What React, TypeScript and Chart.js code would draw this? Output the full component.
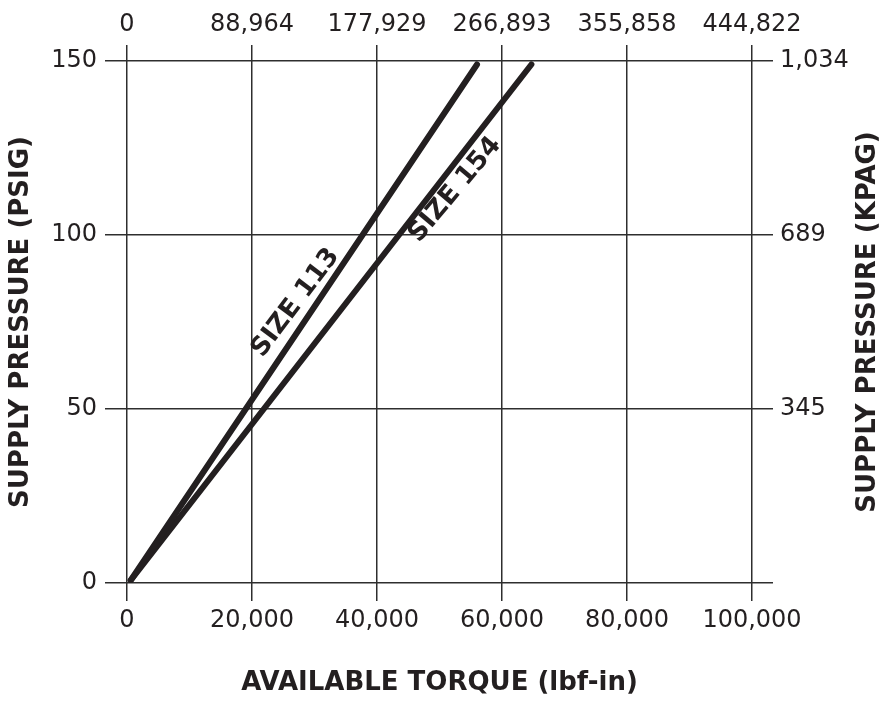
import React, { useEffect, useRef } from 'react';
import { Chart, registerables } from 'chart.js';

Chart.register(...registerables);

// ---- data ----
const xTickValues = [0, 20000, 40000, 60000, 80000, 100000];
const topTickLabels = ['0', '88,964', '177,929', '266,893', '355,858', '444,822'];
const yTickValues = [0, 50, 100, 150];
const rightTickLabels = ['', '345', '689', '1,034'];

const seriesNames = ['SIZE 113', 'SIZE 154'];
const size113 = [{ x: 600, y: 0.8 }, { x: 56000, y: 149 }];
const size154 = [{ x: 600, y: 0.8 }, { x: 64700, y: 149 }];

const labelX = [27000, 52500];
const labelY = [80.5, 113];
const labelAngle = [-53, -50];

const xTitle = 'AVAILABLE TORQUE (lbf-in)';
const yTitle = 'SUPPLY PRESSURE (PSIG)';
const y2Title = 'SUPPLY PRESSURE (KPAG)';

const INK = '#231f20';
const GRID = '#2e2e2e';
const FONT = '"DejaVu Sans", Verdana, sans-serif';

const annotationPlugin = {
  id: 'annotations',
  afterDraw(chart: any) {
    const { ctx, chartArea, scales } = chart;
    ctx.save();
    ctx.fillStyle = INK;
    ctx.font = `bold 26px ${FONT}`;
    ctx.textAlign = 'center';
    ctx.textBaseline = 'middle';
    // series labels
    seriesNames.forEach((name, i) => {
      const px = scales.x.getPixelForValue(labelX[i]);
      const py = scales.y.getPixelForValue(labelY[i]);
      ctx.save();
      ctx.translate(px, py);
      ctx.rotate((labelAngle[i] * Math.PI) / 180);
      ctx.fillText(name, 0, 0);
      ctx.restore();
    });
    // axis titles
    const cy = (chartArea.top + chartArea.bottom) / 2;
    ctx.save();
    ctx.translate(21, cy);
    ctx.rotate(-Math.PI / 2);
    ctx.fillText(yTitle, 0, 0);
    ctx.restore();
    ctx.save();
    ctx.translate(chart.width - 12, cy);
    ctx.rotate(-Math.PI / 2);
    ctx.fillText(y2Title, 0, 0);
    ctx.restore();
    ctx.fillText(xTitle, (chartArea.left + chartArea.right) / 2, chart.height - 21);
    ctx.restore();
  },
};

export default function App() {
  const canvasRef = useRef<HTMLCanvasElement | null>(null);

  useEffect(() => {
    if (!canvasRef.current) return;
    const tickFont = { family: FONT, size: 24 };
    const chart = new Chart(canvasRef.current, {
      type: 'line',
      data: {
        datasets: [
          {
            label: seriesNames[0],
            data: size113,
            borderColor: INK,
            borderWidth: 6,
            pointRadius: 0,
            borderCapStyle: 'round',
            xAxisID: 'x',
            yAxisID: 'y',
          },
          {
            label: seriesNames[1],
            data: size154,
            borderColor: INK,
            borderWidth: 6,
            pointRadius: 0,
            borderCapStyle: 'round',
            xAxisID: 'x',
            yAxisID: 'y',
          },
        ],
      },
      options: {
        animation: false,
        responsive: false,
        maintainAspectRatio: false,
        layout: { padding: 0 },
        plugins: {
          legend: { display: false },
          tooltip: { enabled: false },
        },
        scales: {
          x: {
            type: 'linear',
            position: 'bottom',
            min: xTickValues[0],
            max: xTickValues[xTickValues.length - 1],
            afterBuildTicks: (s: any) => {
              s.ticks = xTickValues.map((v) => ({ value: v }));
            },
            afterFit: (s: any) => {
              s.height = 121;
            },
            border: { display: false },
            grid: { color: GRID, lineWidth: 1.5, tickLength: 18 },
            ticks: {
              font: tickFont,
              color: INK,
              padding: 5,
              maxRotation: 0,
              autoSkip: false,
              callback: (v: any) => Number(v).toLocaleString('en-US'),
            },
          },
          x2: {
            type: 'linear',
            position: 'top',
            min: xTickValues[0],
            max: xTickValues[xTickValues.length - 1],
            afterBuildTicks: (s: any) => {
              s.ticks = xTickValues.map((v) => ({ value: v }));
            },
            afterFit: (s: any) => {
              s.height = 61;
            },
            border: { display: false },
            grid: { color: GRID, lineWidth: 1.5, tickLength: 16, drawOnChartArea: false },
            ticks: {
              font: tickFont,
              color: INK,
              padding: 6,
              maxRotation: 0,
              autoSkip: false,
              callback: (_v: any, i: number) => topTickLabels[i],
            },
          },
          y: {
            type: 'linear',
            position: 'left',
            min: yTickValues[0],
            max: yTickValues[yTickValues.length - 1],
            afterBuildTicks: (s: any) => {
              s.ticks = yTickValues.map((v) => ({ value: v }));
            },
            afterFit: (s: any) => {
              s.width = 127;
            },
            border: { display: false },
            grid: { color: GRID, lineWidth: 1.5, tickLength: 22 },
            ticks: {
              font: tickFont,
              color: INK,
              padding: 8,
              autoSkip: false,
            },
          },
          y2: {
            type: 'linear',
            position: 'right',
            min: yTickValues[0],
            max: yTickValues[yTickValues.length - 1],
            afterBuildTicks: (s: any) => {
              s.ticks = yTickValues.map((v) => ({ value: v }));
            },
            afterFit: (s: any) => {
              s.width = 128;
            },
            border: { display: false },
            grid: { color: GRID, lineWidth: 1.5, tickLength: 21, drawOnChartArea: false },
            ticks: {
              font: tickFont,
              color: INK,
              padding: 7,
              autoSkip: false,
              callback: (_v: any, i: number) => rightTickLabels[i],
            },
          },
        },
      },
      plugins: [annotationPlugin],
    } as any);
    return () => chart.destroy();
  }, []);

  return (
    <div style={{ position: 'fixed', left: 0, top: 0, width: 880, height: 704, background: '#fff' }}>
      <canvas ref={canvasRef} width={880} height={704} style={{ width: 880, height: 704, display: 'block' }} />
    </div>
  );
}
